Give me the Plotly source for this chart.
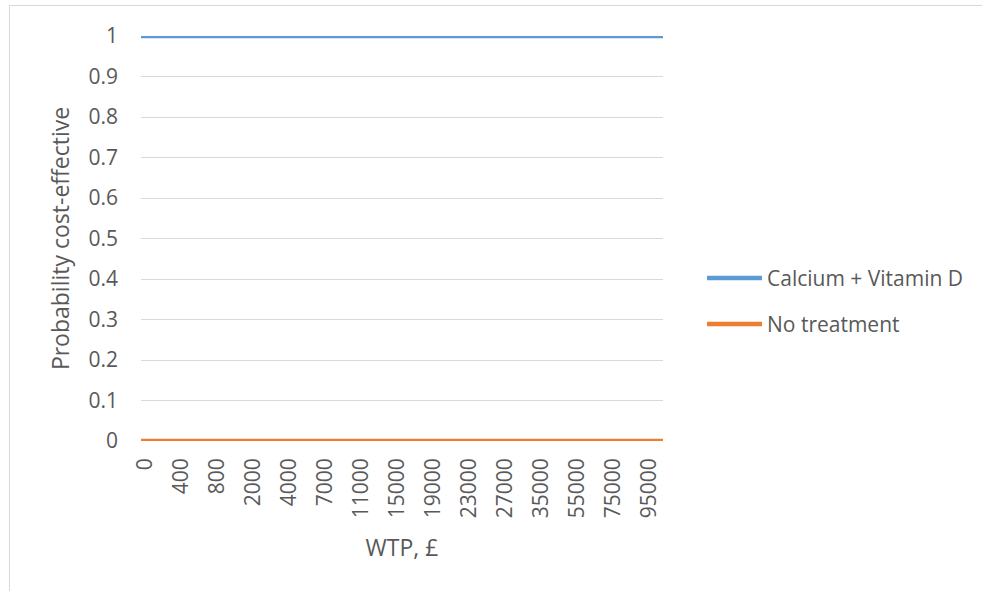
import plotly.graph_objects as go

wtp = ["0", "200", "400", "600", "800", "1000", "2000", "3000", "4000", "5000",
       "7000", "9000", "11000", "13000", "15000", "17000", "19000", "21000", "23000", "25000",
       "27000", "30000", "35000", "45000", "55000", "65000", "75000", "85000", "95000", "100000"]
series_names = ["Calcium + Vitamin D", "No treatment"]
calcium_vitd = [1] * len(wtp)
no_treatment = [0] * len(wtp)
colors = ["#5B9BD5", "#ED7D31"]
y_ticks = [0, 0.1, 0.2, 0.3, 0.4, 0.5, 0.6, 0.7, 0.8, 0.9, 1]
y_ticktext = ["0", "0.1", "0.2", "0.3", "0.4", "0.5", "0.6", "0.7", "0.8", "0.9", "1"]

FONT = "Open Sans, Segoe UI, sans-serif"
TXT = "#595959"

fig = go.Figure()
idx = list(range(len(wtp)))
for name, vals, col in zip(series_names, [calcium_vitd, no_treatment], colors):
    fig.add_trace(go.Scatter(x=idx, y=vals, mode="lines", name=name,
                             line=dict(color=col, width=4.5), showlegend=False,
                             cliponaxis=False))

# target pixel positions in the 982x591 screenshot
W, H = 982, 591
l, r, t, b = 141, 663, 36, 441
pw, ph = r - l, b - t

def px(x):
    return (x - l) / pw

def py(y):
    return (b - y) / ph

shapes = [
    dict(type="rect", xref="paper", yref="paper", x0=px(9.5), x1=px(1000), y0=py(5.5), y1=py(620),
         line=dict(color="#D9D9D9", width=1), fillcolor="rgba(0,0,0,0)", layer="below"),
]
annotations = []
leg_y = [278, 324]
for name, col, yy in zip(series_names, colors, leg_y):
    shapes.append(dict(type="line", xref="paper", yref="paper", x0=px(707), x1=px(762),
                       y0=py(yy), y1=py(yy), line=dict(color=col, width=4.5)))
    annotations.append(dict(xref="paper", yref="paper", x=px(765), y=py(yy), text=name,
                            showarrow=False, xanchor="left", yanchor="middle",
                            font=dict(family=FONT, size=21, color=TXT)))

label_shift = 0.25
fig.update_layout(
    width=W, height=H,
    margin=dict(l=l, r=W - r, t=t, b=H - b, pad=0),
    paper_bgcolor="white", plot_bgcolor="white",
    font=dict(family=FONT, size=21, color=TXT),
    shapes=shapes, annotations=annotations,
    xaxis=dict(range=[0, len(wtp) - 1], tickmode="array",
               tickvals=[i + label_shift for i in idx[::2]],
               ticktext=wtp[::2], tickangle=-90, showgrid=False, zeroline=False,
               showline=False, ticks="", ticklabelstandoff=12,
               tickfont=dict(family=FONT, size=21, color=TXT),
               title=dict(text="WTP, £", font=dict(family=FONT, size=23, color=TXT), standoff=22)),
    yaxis=dict(range=[0, 1], tickmode="array", tickvals=y_ticks, ticktext=y_ticktext,
               showgrid=True, gridcolor="#D9D9D9", gridwidth=1, zeroline=False,
               showline=False, ticks="", ticklabelstandoff=22,
               tickfont=dict(family=FONT, size=21, color=TXT),
               title=dict(text="Probability cost-effective",
                          font=dict(family=FONT, size=23, color=TXT), standoff=12)),
)

fig.write_html("out.html", config={"displayModeBar": False},
               post_script="document.body.style.margin='0';")
